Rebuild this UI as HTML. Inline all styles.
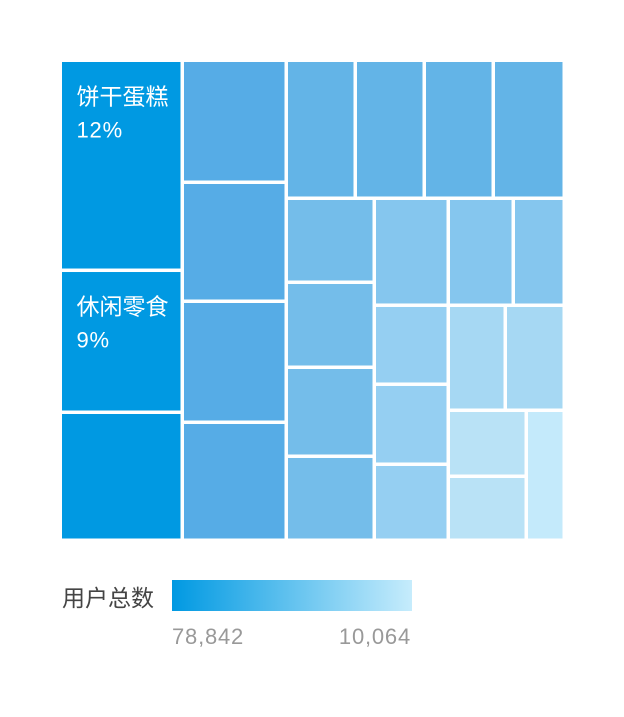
<!DOCTYPE html>
<html><head><meta charset="utf-8">
<style>
html,body{margin:0;padding:0;background:#fff;}
body{width:624px;height:712px;overflow:hidden;font-family:"Liberation Sans","Noto Sans CJK SC",sans-serif;}
</style></head>
<body>
<svg id="chart" width="624" height="712" xmlns="http://www.w3.org/2000/svg">
  <defs>
    <linearGradient id="lg" x1="0" x2="1" y1="0" y2="0">
      <stop offset="0" stop-color="#0099e2"/>
      <stop offset="1" stop-color="#c6ecfc"/>
    </linearGradient>
  </defs>
  <g id="cells"></g>
  <text x="62" y="606" font-size="23" fill="#444">用户总数</text>
  <rect x="172" y="580" width="240" height="31" fill="url(#lg)"/>
  <text x="172" y="644" font-size="22" letter-spacing="0.8" fill="#999">78,842</text>
  <text x="411" y="644" font-size="22" letter-spacing="0.8" fill="#999" text-anchor="end">10,064</text>
</svg>
<script>
const names = ["饼干蛋糕","休闲零食","c3","b1","b2","b3","b4","t1","t2","t3","t4","c3a","c3b","c3c","c3d","c4a","c4b","c4c","c4d","r1a","r1b","r2a","r2b","r3a","r3b","r3c"];
const values = [78842,53300,48050,39040,38080,38720,37760,29300,29300,29300,30150,22750,23020,24100,22750,24360,17990,18220,17310,21400,16790,18420,19060,15840,15360,15200];
const percentLabels = ["12%","9%","","","","","","","","","","","","","","","","","","","","","","","",""];
const colors = ["#0099e2","#0099e2","#0099e2","#56ace6","#56ace6","#56ace6","#56ace6","#63b4e7","#63b4e7","#63b4e7","#63b4e7","#74bdea","#74bdea","#74bdea","#74bdea","#85c6ee","#95cff2","#95cff2","#95cff2","#85c6ee","#85c6ee","#a6d8f3","#a6d8f3","#b9e2f6","#b9e2f6","#c4eafb"];
const tree = {d:'h',c:[
  {d:'v',c:[0,1,2]},
  {d:'v',c:[3,4,5,6]},
  {d:'v',c:[
    {d:'h',c:[7,8,9,10]},
    {d:'h',c:[
      {d:'v',c:[11,12,13,14]},
      {d:'v',c:[15,16,17,18]},
      {d:'v',c:[
        {d:'h',c:[19,20]},
        {d:'h',c:[21,22]},
        {d:'h',c:[{d:'v',c:[23,24]},25]}
      ]}
    ]}
  ]}
]};
function sum(n){return typeof n==='number'?values[n]:n.c.reduce((s,k)=>s+sum(k),0);}
const g=document.getElementById('cells');
const NS="http://www.w3.org/2000/svg";
function layout(n,x,y,w,h){
  if(typeof n==='number'){draw(n,x,y,w,h);return;}
  const tot=sum(n);let off=0;
  n.c.forEach(k=>{
    const f=sum(k)/tot;
    if(n.d==='h'){layout(k,x+off,y,w*f,h);off+=w*f;}
    else{layout(k,x,y+off,w,h*f);off+=h*f;}
  });
}
function draw(i,x,y,w,h){
  const r=document.createElementNS(NS,'rect');
  r.setAttribute('x',x+1.5);r.setAttribute('y',y+1.5);
  r.setAttribute('width',Math.max(0,w-3.5));r.setAttribute('height',Math.max(0,h-3.5));
  r.setAttribute('fill',colors[i]);
  
  
  g.appendChild(r);
  if(percentLabels[i]){
    const t1=document.createElementNS(NS,'text');
    t1.setAttribute('x',x+16);t1.setAttribute('y',y+44);
    t1.setAttribute('font-size','23');t1.setAttribute('fill','#fff');
    t1.textContent=names[i];
    
    
    g.appendChild(t1);
    const t2=document.createElementNS(NS,'text');
    t2.setAttribute('x',x+16);t2.setAttribute('y',y+77);
    t2.setAttribute('font-size','22');t2.setAttribute('fill','#fff');
    t2.setAttribute('letter-spacing','0.8');
    t2.textContent=percentLabels[i];
    
    
    g.appendChild(t2);
  }
}
layout(tree,60.5,60.5,504,480);
</script>
</body></html>
